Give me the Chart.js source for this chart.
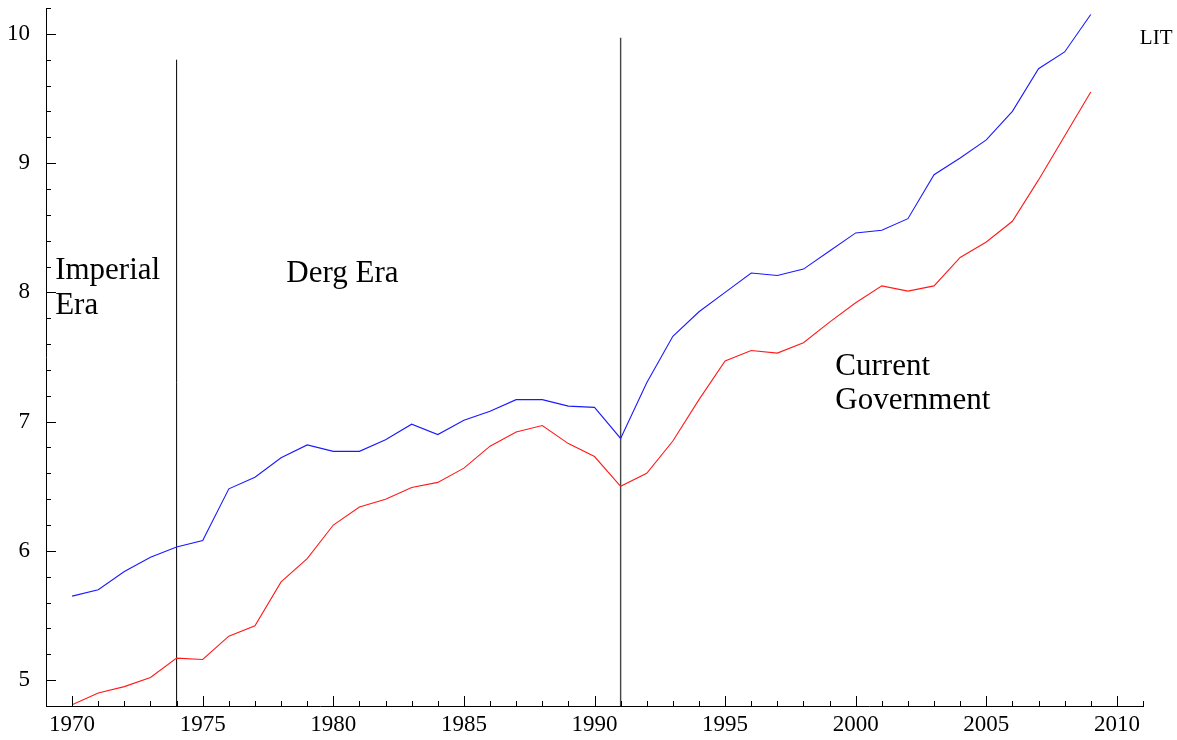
<!DOCTYPE html>
<html>
<head>
<meta charset="utf-8">
<script src="https://cdn.jsdelivr.net/npm/chart.js@4/dist/chart.umd.min.js"></script>
<style>
  html, body { margin: 0; padding: 0; background: #fff; }
  #wrap { width: 1177px; height: 740px; position: relative; }
</style>
</head>
<body>
<div id="wrap"><canvas id="chart"></canvas></div>
<script>
// Data (log scale values)
const years = [1970, 1971, 1972, 1973, 1974, 1975, 1976, 1977, 1978, 1979,
               1980, 1981, 1982, 1983, 1984, 1985, 1986, 1987, 1988, 1989,
               1990, 1991, 1992, 1993, 1994, 1995, 1996, 1997, 1998, 1999,
               2000, 2001, 2002, 2003, 2004, 2005, 2006, 2007, 2008, 2009];

const litBlue = [5.65, 5.70, 5.84, 5.95, 6.03, 6.08, 6.48, 6.57, 6.72, 6.82,
                 6.77, 6.77, 6.86, 6.98, 6.90, 7.01, 7.08, 7.17, 7.17, 7.12,
                 7.11, 6.87, 7.30, 7.66, 7.85, 8.00, 8.15, 8.13, 8.18, 8.32,
                 8.46, 8.48, 8.57, 8.91, 9.04, 9.18, 9.40, 9.73, 9.86, 10.15];

const seriesRed = [4.81, 4.90, 4.95, 5.02, 5.17, 5.16, 5.34, 5.42, 5.76, 5.94,
                   6.20, 6.34, 6.40, 6.49, 6.53, 6.64, 6.81, 6.92, 6.97, 6.83,
                   6.73, 6.50, 6.60, 6.85, 7.17, 7.47, 7.55, 7.53, 7.61, 7.77,
                   7.92, 8.05, 8.01, 8.05, 8.27, 8.39, 8.55, 8.87, 9.21, 9.55];

// regime change markers
const breakYears = [1974, 1991];
const breakTops = [9.80, 9.97];

// tick labels
const xTickLabels = [1970, 1975, 1980, 1985, 1990, 1995, 2000, 2005, 2010];
const yTickLabels = [5, 6, 7, 8, 9, 10];

// text annotations (data coordinates)
const noteTexts = ['Imperial', 'Era', 'Derg Era', 'Current', 'Government', 'LIT'];
const noteX = [1969.35, 1969.35, 1978.2, 1999.22, 1999.22, 2010.88];
const noteY = [8.10, 7.83, 8.08, 7.36, 7.10, 9.92];

const SERIF = '"Liberation Serif", "Times New Roman", serif';

const inwardTicks = {
  id: 'inwardTicks',
  afterDraw(chart) {
    const { ctx, chartArea } = chart;
    const x = chart.scales.x, y = chart.scales.y;
    ctx.save();
    ctx.strokeStyle = '#000';
    ctx.lineWidth = 1;
    ctx.beginPath();
    for (let yr = x.min; yr <= x.max; yr++) {
      const px = Math.round(x.getPixelForValue(yr)) + 0.5;
      const len = yr % 5 === 0 ? 10 : 5;
      ctx.moveTo(px, chartArea.bottom);
      ctx.lineTo(px, chartArea.bottom - len);
    }
    for (let k = 0; k <= 27; k++) {
      const v = y.min + k * 0.2;
      const py = Math.round(y.getPixelForValue(v)) + 0.5;
      const len = Math.abs(v - Math.round(v)) < 1e-6 ? 10 : 5;
      ctx.moveTo(chartArea.left, py);
      ctx.lineTo(chartArea.left + len, py);
    }
    ctx.stroke();
    ctx.restore();
  }
};

const notes = {
  id: 'notes',
  afterDraw(chart) {
    const { ctx } = chart;
    const x = chart.scales.x, y = chart.scales.y;
    ctx.save();
    ctx.fillStyle = '#000';
    ctx.textAlign = 'left';
    ctx.textBaseline = 'alphabetic';
    noteTexts.forEach((t, i) => {
      ctx.font = (t === 'LIT' ? '21px ' : '31px ') + SERIF;
      ctx.fillText(t, x.getPixelForValue(noteX[i]), y.getPixelForValue(noteY[i]));
    });
    ctx.restore();
  }
};

const datasets = [
  {
    label: 'LIT',
    data: years.map((yr, i) => ({ x: yr, y: litBlue[i] })),
    borderColor: '#1a1aff', borderWidth: 1.1, pointRadius: 0, tension: 0
  },
  {
    label: 'series2',
    data: years.map((yr, i) => ({ x: yr, y: seriesRed[i] })),
    borderColor: '#ff1a1a', borderWidth: 1.1, pointRadius: 0, tension: 0
  }
];
breakYears.forEach((yr, i) => {
  datasets.push({
    label: 'break' + yr,
    data: [{ x: yr, y: 4.8 }, { x: yr, y: breakTops[i] }],
    borderColor: i === 0 ? '#000' : '#444', borderWidth: i === 0 ? 1 : 1.4,
    pointRadius: 0
  });
});

function noPad(s) {
  s.paddingTop = 0; s.paddingBottom = 0; s.paddingLeft = 0; s.paddingRight = 0;
}

new Chart(document.getElementById('chart'), {
  type: 'line',
  data: { datasets },
  options: {
    responsive: true,
    maintainAspectRatio: false,
    animation: false,
    clip: false,
    layout: { padding: { top: 8, right: 34, left: 0, bottom: 0 } },
    plugins: { legend: { display: false }, tooltip: { enabled: false } },
    scales: {
      x: {
        type: 'linear', min: 1969, max: 2011,
        grid: { display: false },
        border: { display: true, color: '#000', width: 1 },
        afterBuildTicks: s => { s.ticks = xTickLabels.map(v => ({ value: v })); },
        afterFit: s => { s.height = 34; noPad(s); },
        ticks: {
          color: '#000', padding: -3, maxRotation: 0,
          font: { family: SERIF, size: 23 },
          callback: v => String(v)
        }
      },
      y: {
        type: 'linear', min: 4.8, max: 10.2,
        grid: { display: false },
        border: { display: true, color: '#000', width: 1 },
        afterBuildTicks: s => { s.ticks = yTickLabels.map(v => ({ value: v })); },
        afterFit: s => { s.width = 46; noPad(s); },
        ticks: {
          color: '#000', padding: 8,
          font: { family: SERIF, size: 23 },
          callback: v => String(v)
        }
      }
    }
  },
  plugins: [inwardTicks, notes]
});
</script>
</body>
</html>
